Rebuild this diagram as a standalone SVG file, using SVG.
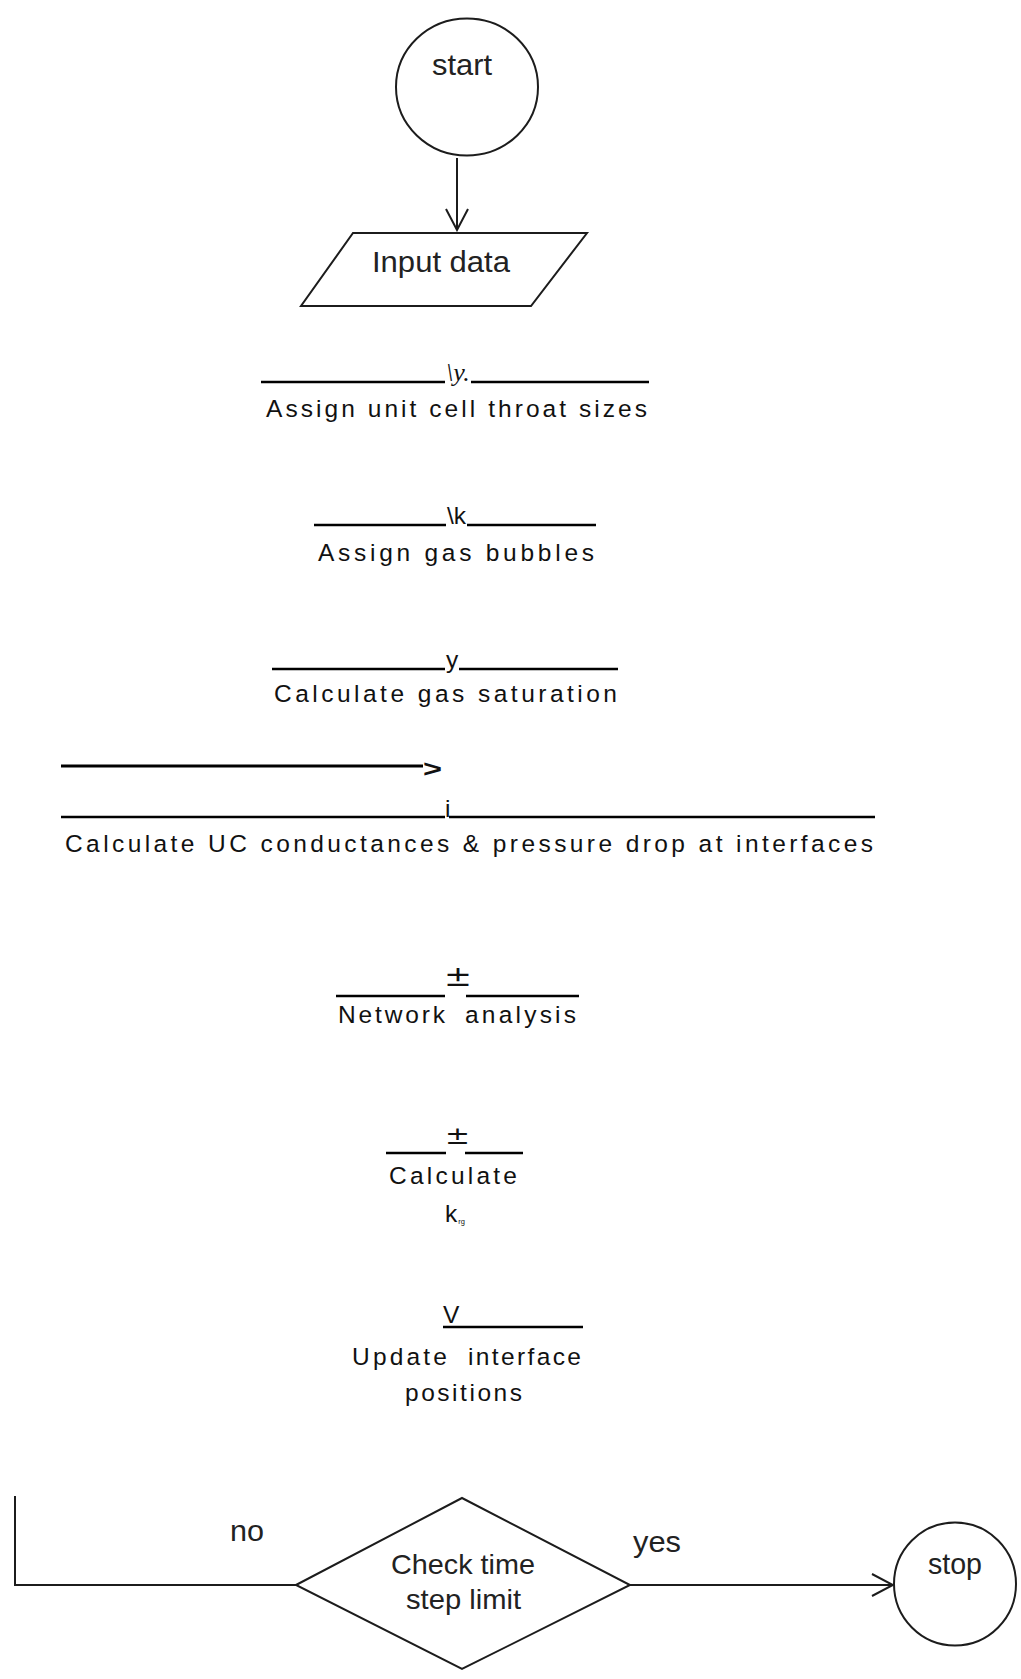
<svg xmlns="http://www.w3.org/2000/svg" width="1021" height="1679" viewBox="0 0 1021 1679">
<style>
.shape{fill:none;stroke:#1c1c1c;stroke-width:2}
.hl{stroke:#000;stroke-width:2.6;fill:none}
.scan{font-family:"Liberation Sans",Arial,sans-serif;fill:#222}
.blk{font-family:"Liberation Sans",Arial,sans-serif;font-size:24.5px;fill:#111}
.pm{font-family:"DejaVu Sans","Liberation Sans",sans-serif;fill:#111}
.ser{font-family:"Liberation Serif","Times New Roman",serif;font-style:italic;font-size:26px;fill:#111}
</style>
<defs>
<marker id="vhead" viewBox="0 0 24 24" refX="22" refY="12" markerWidth="24" markerHeight="24" markerUnits="userSpaceOnUse" orient="auto">
<path d="M1,1 L22,12 L1,23" fill="none" stroke="#1c1c1c" stroke-width="2"/>
</marker>
</defs>
<rect width="1021" height="1679" fill="#fff"/>

<g id="connectors">
<line class="shape" x1="457" y1="158" x2="457" y2="230" marker-end="url(#vhead)"/>
<line class="shape" x1="630" y1="1585" x2="893" y2="1585" marker-end="url(#vhead)"/>
<polyline class="shape" points="296,1585 15,1585 15,1496"/>
<line x1="61" y1="766" x2="423" y2="766" stroke="#000" stroke-width="3"/>
<text class="blk" x="423" y="777" font-size="30" font-weight="bold" textLength="19" lengthAdjust="spacingAndGlyphs">&gt;</text>
<text class="scan" x="230" y="1541" font-size="30" textLength="34" lengthAdjust="spacingAndGlyphs">no</text>
<text class="scan" x="633" y="1552" font-size="30" textLength="48" lengthAdjust="spacingAndGlyphs">yes</text>
</g>

<g id="start">
<ellipse class="shape" cx="467" cy="87" rx="71" ry="68.5"/>
<text class="scan" x="432" y="75" font-size="30" textLength="60" lengthAdjust="spacingAndGlyphs">start</text>
</g>

<g id="input">
<polygon class="shape" points="353,233 587,233 531,306 301,306"/>
<text class="scan" x="372" y="272" font-size="30" textLength="138" lengthAdjust="spacingAndGlyphs">Input data</text>
</g>

<g id="assign-throat">
<line class="hl" x1="261" y1="382" x2="445" y2="382"/>
<text class="ser" x="446" y="381">\y.</text>
<line class="hl" x1="471" y1="382" x2="649" y2="382"/>
<text class="blk" x="266" y="417" textLength="381" lengthAdjust="spacing">Assign unit cell throat sizes</text>
</g>

<g id="assign-bubbles">
<line class="hl" x1="314" y1="525" x2="446" y2="525"/>
<text class="blk" x="447" y="524" font-size="22">\k</text>
<line class="hl" x1="467" y1="525" x2="596" y2="525"/>
<text class="blk" x="318" y="561" textLength="276" lengthAdjust="spacing">Assign gas bubbles</text>
</g>

<g id="gas-saturation">
<line class="hl" x1="272" y1="669" x2="445" y2="669"/>
<text class="blk" x="446" y="668">y</text>
<line class="hl" x1="459" y1="669" x2="618" y2="669"/>
<text class="blk" x="274" y="702" textLength="343" lengthAdjust="spacing">Calculate gas saturation</text>
</g>

<g id="conductances">
<line class="hl" x1="61" y1="817" x2="445" y2="817"/>
<text class="blk" x="445" y="817">i</text>
<line class="hl" x1="449" y1="817" x2="875" y2="817"/>
<text class="blk" x="65" y="852" textLength="808" lengthAdjust="spacing">Calculate UC conductances &amp; pressure drop at interfaces</text>
</g>

<g id="network">
<line class="hl" x1="336" y1="996" x2="445" y2="996"/>
<text class="pm" x="444" y="986" font-size="29" textLength="28" lengthAdjust="spacingAndGlyphs">±</text>
<line class="hl" x1="466" y1="996" x2="579" y2="996"/>
<text class="blk" x="338" y="1023" textLength="107" lengthAdjust="spacing">Network</text>
<text class="blk" x="465" y="1023" textLength="111" lengthAdjust="spacing">analysis</text>
</g>

<g id="krg">
<line class="hl" x1="386" y1="1153" x2="446" y2="1153"/>
<text class="pm" x="445" y="1144" font-size="25" textLength="25" lengthAdjust="spacingAndGlyphs">±</text>
<line class="hl" x1="465" y1="1153" x2="523" y2="1153"/>
<text class="blk" x="389" y="1184" textLength="128" lengthAdjust="spacing">Calculate</text>
<text class="blk" x="445" y="1222">k<tspan font-size="7.5" dx="1" dy="2">rg</tspan></text>
</g>

<g id="update">
<text class="blk" x="443" y="1323">V</text>
<line class="hl" x1="443" y1="1327" x2="583" y2="1327"/>
<text class="blk" x="352" y="1365" textLength="95" lengthAdjust="spacing">Update</text>
<text class="blk" x="468" y="1365" textLength="113" lengthAdjust="spacing">interface</text>
<text class="blk" x="405" y="1401" textLength="117" lengthAdjust="spacing">positions</text>
</g>

<g id="check">
<polygon class="shape" points="296,1585 462,1498 630,1585 462,1669"/>
<text class="scan" x="391" y="1574" font-size="28" textLength="144" lengthAdjust="spacingAndGlyphs">Check time</text>
<text class="scan" x="406" y="1609" font-size="28" textLength="115" lengthAdjust="spacingAndGlyphs">step limit</text>
</g>

<g id="stop">
<ellipse class="shape" cx="955" cy="1584" rx="61" ry="61.5"/>
<text class="scan" x="928" y="1574" font-size="30" textLength="54" lengthAdjust="spacingAndGlyphs">stop</text>
</g>
</svg>
